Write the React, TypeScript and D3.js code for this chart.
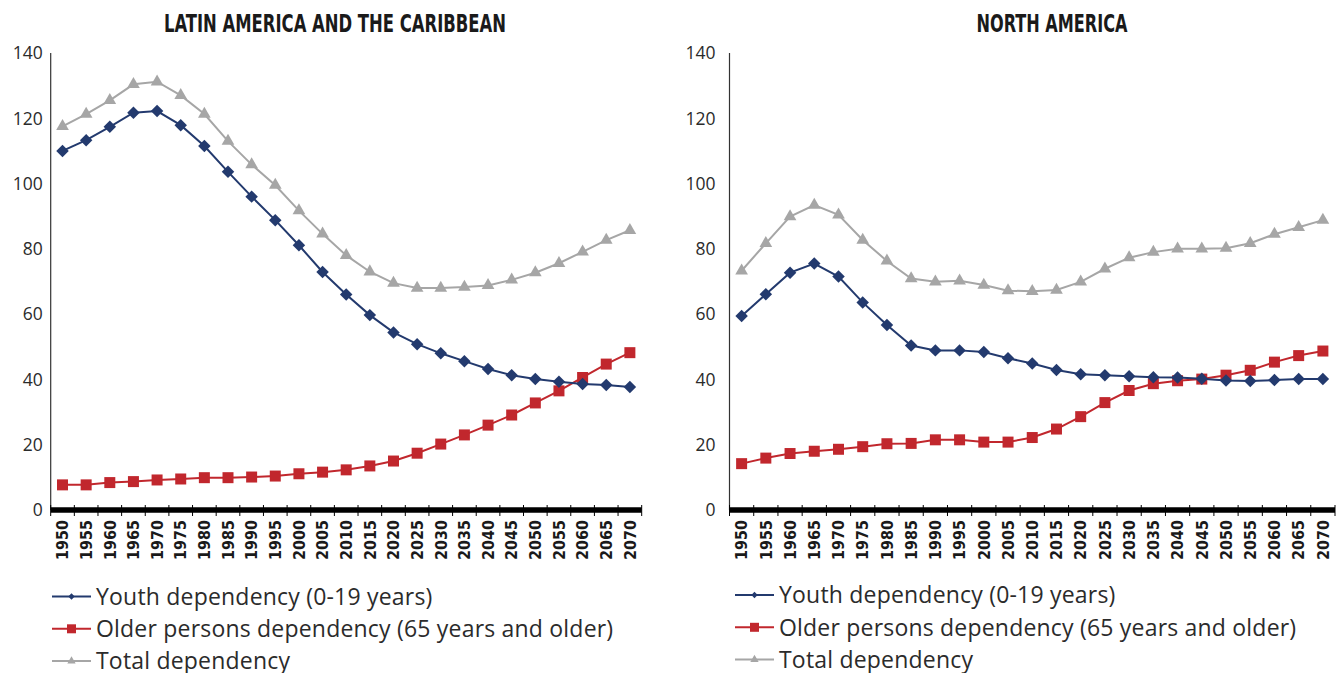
import React from "react";
import * as d3 from "d3";

const years = [
  "1950", "1955", "1960", "1965", "1970", "1975", "1980", "1985", "1990",
  "1995", "2000", "2005", "2010", "2015", "2020", "2025", "2030", "2035",
  "2040", "2045", "2050", "2055", "2060", "2065", "2070",
];
const yTicks = [0, 20, 40, 60, 80, 100, 120, 140];

// Latin America and the Caribbean
const latYouth = [
  110.0, 113.3, 117.4, 121.7, 122.2, 117.9, 111.5, 103.6, 96.0, 88.8, 81.1,
  72.9, 66.0, 59.7, 54.4, 50.8, 48.0, 45.6, 43.2, 41.3, 40.1, 39.3, 38.6, 38.3,
  37.7,
];
const latOlder = [
  7.7, 7.7, 8.4, 8.7, 9.2, 9.5, 9.9, 9.9, 10.1, 10.4, 11.1, 11.6, 12.3, 13.5,
  15.0, 17.4, 20.2, 23.0, 26.0, 29.1, 32.8, 36.5, 40.6, 44.7, 48.2,
];
const latTotal = [
  117.5, 121.3, 125.5, 130.4, 131.2, 127.0, 121.3, 113.0, 105.8, 99.5, 91.7,
  84.6, 78.0, 73.0, 69.5, 68.0, 68.0, 68.3, 68.8, 70.5, 72.7, 75.6, 79.1, 82.7,
  85.7,
];

// North America
const naYouth = [
  59.4, 66.1, 72.7, 75.5, 71.5, 63.6, 56.7, 50.4, 48.9, 48.9, 48.4, 46.5, 44.9,
  42.9, 41.6, 41.3, 41.0, 40.7, 40.6, 40.2, 39.7, 39.5, 39.8, 40.1, 40.1,
];
const naOlder = [
  14.2, 15.9, 17.3, 18.0, 18.6, 19.4, 20.3, 20.4, 21.5, 21.5, 20.8, 20.8, 22.2,
  24.8, 28.6, 32.9, 36.6, 38.7, 39.6, 40.1, 41.3, 42.8, 45.3, 47.3, 48.7,
];
const naTotal = [
  73.3, 81.7, 89.9, 93.4, 90.4, 82.7, 76.3, 70.9, 69.9, 70.2, 68.9, 67.2, 67.0,
  67.4, 69.9, 73.9, 77.3, 79.0, 80.0, 80.0, 80.2, 81.7, 84.5, 86.6, 88.8,
];

const seriesNames = [
  "Youth dependency (0-19 years)",
  "Older persons dependency (65 years and older)",
  "Total dependency",
];
const colors = ["#233a6e", "#c1272d", "#a6a6a6"];
const shapes = ["diamond", "square", "triangle"];

const TITLE_FONT = "'Liberation Sans Narrow', 'DejaVu Sans Condensed', sans-serif";
const BODY_FONT = "'Open Sans', Lato, sans-serif";

// big = chart marker, otherwise the smaller legend marker
function Marker({ shape, x, y, color, big = true }) {
  let d;
  let rot = "";
  if (shape === "diamond") {
    d = d3.symbol(d3.symbolSquare, big ? 78 : 20)();
    rot = " rotate(45)";
  } else if (shape === "square") {
    d = d3.symbol(d3.symbolSquare, big ? 121 : 81)();
  } else {
    d = d3.symbol(d3.symbolTriangle, big ? 70 : 30)();
  }
  return <path d={d} transform={`translate(${x},${y})${rot}`} fill={color} />;
}

function Panel({ title, titleX, titleLen, x0, x1, labelGap, data, legendX, legendY }) {
  const top = 53;
  const bottom = 510;
  const x = d3.scaleBand().domain(years).range([x0, x1]);
  const y = d3.scaleLinear().domain([0, 140]).range([bottom, top]);
  const cx = (yr) => x(yr) + x.bandwidth() / 2;
  const line = d3
    .line<number>()
    .x((_, i) => cx(years[i]))
    .y((v) => y(v));

  // total under older under youth
  const order = [2, 1, 0];

  return (
    <g>
      <text
        x={titleX}
        y={32}
        textAnchor="middle"
        textLength={titleLen}
        lengthAdjust="spacingAndGlyphs"
        fontFamily={TITLE_FONT}
        fontWeight="bold"
        fontSize={25}
        fill="#1a1a1a"
      >
        {title}
      </text>

      {/* y axis */}
      <line x1={x0} x2={x0} y1={top} y2={bottom} stroke="#333" strokeWidth={1.2} />
      {yTicks.map((t) => (
        <text
          key={t}
          x={x0 - labelGap}
          y={y(t)}
          dy="0.36em"
          textAnchor="end"
          fontFamily={BODY_FONT}
          fontSize={17.5}
          fill="#2b2b2b"
        >
          {t}
        </text>
      ))}

      {/* series */}
      {order.map((si) => (
        <g key={si}>
          <path d={line(data[si])} fill="none" stroke={colors[si]} strokeWidth={2} />
          {data[si].map((v, i) => (
            <Marker key={i} shape={shapes[si]} x={cx(years[i])} y={y(v)} color={colors[si]} />
          ))}
        </g>
      ))}

      {/* x axis */}
      <line x1={x0} x2={x1} y1={bottom} y2={bottom} stroke="#000" strokeWidth={5.5} />
      {years.map((yr) => (
        <line
          key={"t" + yr}
          x1={x(yr)}
          x2={x(yr)}
          y1={bottom - 5}
          y2={bottom + 6}
          stroke="#000"
          strokeWidth={1}
        />
      ))}
      <line x1={x1} x2={x1} y1={bottom - 5} y2={bottom + 6} stroke="#000" strokeWidth={1} />
      {years.map((yr) => (
        <text
          key={"l" + yr}
          transform={`translate(${cx(yr)},${bottom + 10}) rotate(-90)`}
          textAnchor="end"
          dy="0.36em"
          fontFamily={TITLE_FONT}
          fontWeight="bold"
          fontSize={16}
          fill="#1a1a1a"
        >
          {yr}
        </text>
      ))}

      {/* legend */}
      {seriesNames.map((name, i) => {
        const ly = legendY + i * 32.3;
        return (
          <g key={name}>
            <line x1={legendX} x2={legendX + 39} y1={ly} y2={ly} stroke={colors[i]} strokeWidth={2} />
            <Marker shape={shapes[i]} x={legendX + 19.5} y={ly} color={colors[i]} big={false} />
            <text
              x={legendX + 44}
              y={ly}
              dy="0.36em"
              fontFamily={BODY_FONT}
              fontSize={23}
              letterSpacing={0.2}
              fill="#2b2b2b"
            >
              {name}
            </text>
          </g>
        );
      })}
    </g>
  );
}

export default function App() {
  return (
    <svg
      width={1338}
      height={673}
      style={{ position: "absolute", left: 0, top: 0, background: "#fff" }}
    >
      <Panel
        title="LATIN AMERICA AND THE CARIBBEAN"
        titleX={335}
        titleLen={342}
        x0={50.7}
        x1={641.7}
        labelGap={8}
        data={[latYouth, latOlder, latTotal]}
        legendX={52}
        legendY={596.5}
      />
      <Panel
        title="NORTH AMERICA"
        titleX={1052}
        titleLen={151}
        x0={729.5}
        x1={1335}
        labelGap={14}
        data={[naYouth, naOlder, naTotal]}
        legendX={735}
        legendY={595}
      />
    </svg>
  );
}
